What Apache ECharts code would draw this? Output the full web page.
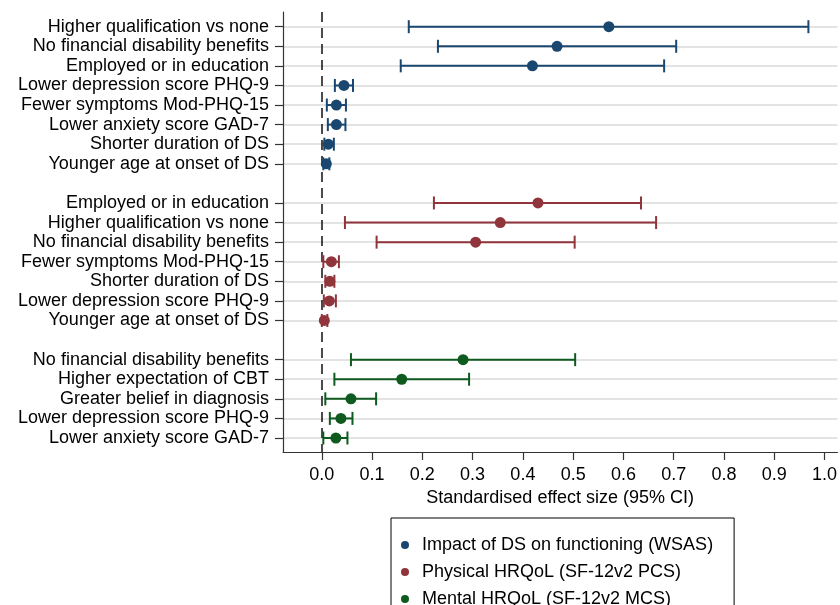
<!DOCTYPE html>
<html>
<head>
<meta charset="utf-8">
<script src="https://cdn.jsdelivr.net/npm/echarts@6/dist/echarts.min.js"></script>
<style>
html,body{margin:0;padding:0;background:#fff;}
#chart{width:840px;height:605px;}
</style>
</head>
<body>
<div id="chart"></div>
<script>
// ---- Data ----
const seriesNames = [
  'Impact of DS on functioning (WSAS)',
  'Physical HRQoL (SF-12v2 PCS)',
  'Mental HRQoL (SF-12v2 MCS)'
];

const wsasLabels = ['Higher qualification vs none','No financial disability benefits','Employed or in education','Lower depression score PHQ-9','Fewer symptoms Mod-PHQ-15','Lower anxiety score GAD-7','Shorter duration of DS','Younger age at onset of DS'];
const wsasEst = [0.571, 0.468, 0.419, 0.044, 0.029, 0.029, 0.013, 0.009];
const wsasLo  = [0.173, 0.231, 0.157, 0.026, 0.010, 0.012, 0.005, 0.003];
const wsasHi  = [0.968, 0.705, 0.681, 0.062, 0.048, 0.047, 0.024, 0.015];

const pcsLabels = ['Employed or in education','Higher qualification vs none','No financial disability benefits','Fewer symptoms Mod-PHQ-15','Shorter duration of DS','Lower depression score PHQ-9','Younger age at onset of DS'];
const pcsEst = [0.430, 0.355, 0.306, 0.019, 0.016, 0.015, 0.005];
const pcsLo  = [0.223, 0.046, 0.109, 0.003, 0.007, 0.004, 0.000];
const pcsHi  = [0.635, 0.665, 0.503, 0.034, 0.025, 0.028, 0.011];

const mcsLabels = ['No financial disability benefits','Higher expectation of CBT','Greater belief in diagnosis','Lower depression score PHQ-9','Lower anxiety score GAD-7'];
const mcsEst = [0.281, 0.159, 0.058, 0.038, 0.028];
const mcsLo  = [0.058, 0.025, 0.007, 0.016, 0.003];
const mcsHi  = [0.504, 0.293, 0.108, 0.061, 0.051];

const xTicks = [0.0, 0.1, 0.2, 0.3, 0.4, 0.5, 0.6, 0.7, 0.8, 0.9, 1.0];
const colors = ['#1a476f', '#90353b', '#0f5a1f'];

// ---- Build rows (blank row between groups) ----
const groups = [
  {labels: wsasLabels, est: wsasEst, lo: wsasLo, hi: wsasHi},
  {labels: pcsLabels, est: pcsEst, lo: pcsLo, hi: pcsHi},
  {labels: mcsLabels, est: mcsEst, lo: mcsLo, hi: mcsHi}
];
const rowLabels = [];
const rowIdx = [];
groups.forEach((g, gi) => {
  g.rows = [];
  g.labels.forEach(l => { g.rows.push(rowLabels.length); rowIdx.push(rowLabels.length); rowLabels.push(l); });
  if (gi < groups.length - 1) rowLabels.push('');
});

const FONT = '"Liberation Sans", Arial, sans-serif';
const series = [];
groups.forEach((g, gi) => {
  series.push({
    type: 'custom',
    name: seriesNames[gi] + ' CI',
    silent: true,
    data: g.rows.map((r, i) => [g.lo[i], g.hi[i], r]),
    renderItem: function (params, api) {
      const a = api.coord([api.value(0), api.value(2)]);
      const b = api.coord([api.value(1), api.value(2)]);
      const h = 6.5;
      const st = {stroke: colors[gi], lineWidth: 2};
      return {
        type: 'group',
        children: [
          {type: 'line', shape: {x1: a[0], y1: a[1], x2: b[0], y2: b[1]}, style: st},
          {type: 'line', shape: {x1: a[0], y1: a[1] - h, x2: a[0], y2: a[1] + h}, style: st},
          {type: 'line', shape: {x1: b[0], y1: b[1] - h, x2: b[0], y2: b[1] + h}, style: st}
        ]
      };
    },
    z: 3
  });
  series.push({
    type: 'scatter',
    name: seriesNames[gi],
    data: g.rows.map((r, i) => [g.est[i], r]),
    symbol: 'circle',
    symbolSize: 11,
    itemStyle: {color: colors[gi], opacity: 1},
    z: 4,
    markLine: gi === 0 ? {
      silent: true,
      symbol: 'none',
      label: {show: false},
      lineStyle: {color: '#111', width: 1.5, type: [10, 6]},
      data: [{xAxis: 0}],
      z: 2
    } : undefined
  });
});

const chart = echarts.init(document.getElementById('chart'), null, {renderer: 'canvas'});
chart.setOption({
  animation: false,
  backgroundColor: '#fff',
  textStyle: {fontFamily: FONT},
  grid: {left: 283, right: 0, top: 12, bottom: 153, containLabel: false},
  xAxis: {
    type: 'value',
    position: 'bottom',
    min: -0.0772,
    max: 1.0257,
    name: 'Standardised effect size (95% CI)',
    nameLocation: 'middle',
    nameGap: 37,
    nameTextStyle: {fontSize: 18, color: '#000', fontFamily: FONT},
    axisLine: {show: true, onZero: false, lineStyle: {color: '#333', width: 1.2}},
    axisTick: {show: true, length: 8, customValues: xTicks, lineStyle: {color: '#333', width: 1.2}},
    axisLabel: {customValues: xTicks, fontSize: 18, color: '#000', margin: 14, fontFamily: FONT,
      formatter: v => Number(v).toFixed(1)},
    splitLine: {show: false}
  },
  yAxis: {
    type: 'value',
    position: 'left',
    inverse: true,
    min: -0.75,
    max: 21.715,
    axisLine: {show: true, onZero: false, lineStyle: {color: '#333', width: 1.2}},
    axisTick: {show: true, length: 8, customValues: rowIdx, lineStyle: {color: '#333', width: 1.2}},
    axisLabel: {customValues: rowIdx, fontSize: 18, color: '#000', margin: 14, fontFamily: FONT,
      formatter: v => rowLabels[Math.round(v)] || ''},
    splitLine: {show: true, customValues: rowIdx, lineStyle: {color: '#e3e3e3', width: 2}}
  },
  legend: {
    data: seriesNames,
    orient: 'vertical',
    left: 391,
    top: 518,
    height: 150,
    icon: 'circle',
    itemWidth: 8,
    itemHeight: 8,
    itemGap: 7,
    padding: [17, 21, 12, 10],
    borderColor: '#000',
    borderWidth: 1,
    textStyle: {fontSize: 18, color: '#000', lineHeight: 20, fontFamily: FONT, padding: [0, 0, 0, 8]},
    selectedMode: false
  },
  series: series
});
</script>
</body>
</html>
